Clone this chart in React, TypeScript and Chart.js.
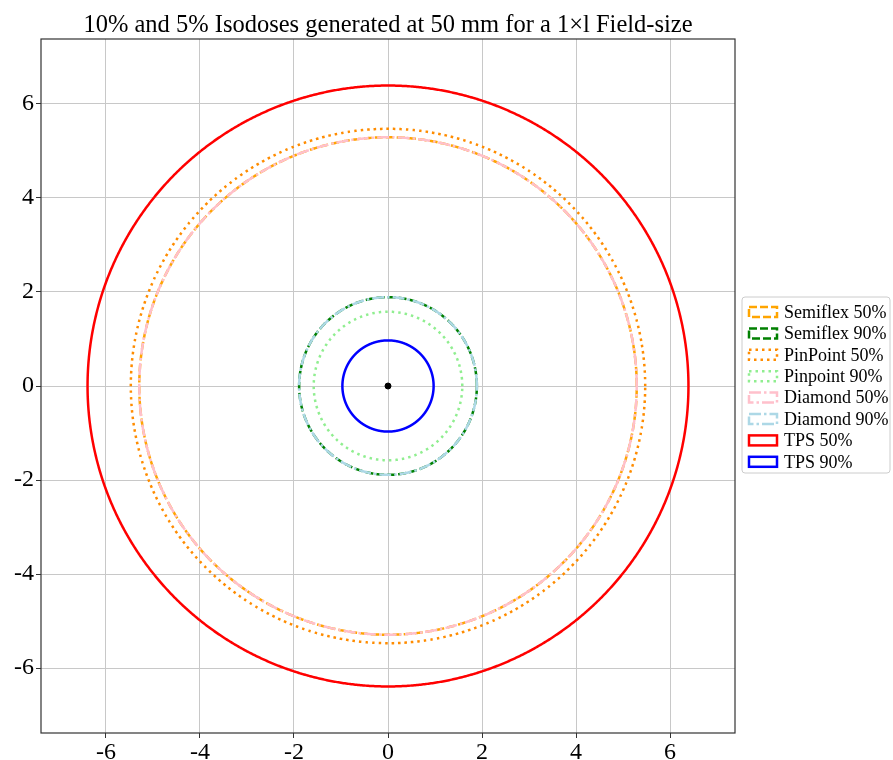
import React, { useEffect, useRef } from "react";
import { Chart, registerables } from "chart.js";

Chart.register(...registerables);

const titleText = "10% and 5% Isodoses generated at 50 mm for a 1×l Field-size";
const seriesLabels = ["Semiflex 50%", "Semiflex 90%", "PinPoint 50%", "Pinpoint 90%", "Diamond 50%", "Diamond 90%", "TPS 50%", "TPS 90%"];
const seriesRadii = [5.29, 1.89, 5.47, 1.58, 5.29, 1.89, 6.39, 0.97];
const seriesColors = ["#FFA500", "#008000", "#FF8C00", "#90EE90", "#FFC0CB", "#ADD8E6", "#FF0000", "#0000FF"];
const seriesDashes: number[][] = [[8, 3], [8, 3], [2.5, 4], [2.5, 4], [12, 3, 2.5, 3], [12, 3, 2.5, 3], [], []];
const centerPoint = [{ x: 0, y: 0 }];
const tickValues = [-6, -4, -2, 0, 2, 4, 6];
const axisMin = -7.38;
const axisMax = 7.38;

function circlePoints(r: number) {
  const pts: { x: number; y: number }[] = [];
  for (let i = 0; i <= 720; i++) {
    const a = (i / 720) * Math.PI * 2;
    pts.push({ x: r * Math.cos(a), y: r * Math.sin(a) });
  }
  return pts;
}

const FONT = "'Liberation Serif', 'Times New Roman', serif";

const overlayPlugin = {
  id: "overlay",
  afterDraw(chart: any) {
    const ctx = chart.ctx;
    const ca = chart.chartArea;
    ctx.save();
    // frame
    ctx.strokeStyle = "#333333";
    ctx.lineWidth = 1.2;
    ctx.setLineDash([]);
    ctx.strokeRect(ca.left, ca.top, ca.right - ca.left, ca.bottom - ca.top);
    // title
    ctx.fillStyle = "#000";
    ctx.font = `24.5px ${FONT}`;
    ctx.textAlign = "center";
    ctx.textBaseline = "alphabetic";
    ctx.fillText(titleText, (ca.left + ca.right) / 2, 32);
    // legend
    const lx = 742, ly = 297, lw = 148, lh = 176;
    ctx.strokeStyle = "#cccccc";
    ctx.lineWidth = 1;
    ctx.beginPath();
    if (ctx.roundRect) ctx.roundRect(lx, ly, lw, lh, 3); else ctx.rect(lx, ly, lw, lh);
    ctx.fillStyle = "rgba(255,255,255,0.8)";
    ctx.fill();
    ctx.stroke();
    ctx.font = `18px ${FONT}`;
    ctx.textAlign = "left";
    ctx.textBaseline = "middle";
    for (let i = 0; i < seriesLabels.length; i++) {
      const cy = 312 + i * 21.4;
      ctx.strokeStyle = seriesColors[i];
      ctx.lineWidth = 2.5;
      ctx.setLineDash(seriesDashes[i]);
      ctx.strokeRect(749, cy - 5, 28, 10);
      ctx.setLineDash([]);
      ctx.fillStyle = "#000";
      ctx.fillText(seriesLabels[i], 784, cy + 1);
    }
    ctx.restore();
  },
};

export default function App() {
  const ref = useRef<HTMLCanvasElement | null>(null);
  useEffect(() => {
    document.body.style.margin = "0";
    const datasets: any[] = seriesLabels.map((label, i) => ({
      label,
      data: circlePoints(seriesRadii[i]),
      showLine: true,
      borderColor: seriesColors[i],
      backgroundColor: seriesColors[i],
      borderWidth: 2.5,
      borderDash: seriesDashes[i],
      pointRadius: 0,
      fill: false,
      tension: 0.0001,
      order: seriesLabels.length - i + 1,
    }));
    datasets.push({
      label: "center",
      data: centerPoint,
      pointRadius: 3,
      backgroundColor: "#000",
      borderColor: "#000",
      showLine: false,
      order: 0,
    });
    const scaleCommon = (axis: string) => ({
      type: "linear",
      min: axisMin,
      max: axisMax,
      afterBuildTicks: (s: any) => {
        s.ticks = tickValues.map((v) => ({ value: v }));
      },
      afterFit: (s: any) => {
        if (axis === "x") s.height = 27;
        else s.width = 41;
      },
      grid: {
        color: "#c8c8c8",
        lineWidth: 1,
        drawTicks: true,
        tickLength: 5,
        tickColor: "#333",
      },
      border: { display: false },
      ticks: {
        color: "#000",
        font: { family: FONT, size: 24 },
        padding: axis === "x" ? 0 : 2,
        callback: (v: any) => String(v),
      },
    });
    const chart = new Chart(ref.current as HTMLCanvasElement, {
      type: "scatter",
      data: { datasets },
      options: {
        animation: false,
        responsive: false,
        layout: { padding: { left: 0, top: 39, right: 158, bottom: 0 } },
        plugins: { legend: { display: false }, tooltip: { enabled: false }, title: { display: false } },
        scales: { x: scaleCommon("x") as any, y: scaleCommon("y") as any },
      },
      plugins: [overlayPlugin],
    });
    return () => chart.destroy();
  }, []);
  return <canvas ref={ref} width={893} height={760} style={{ display: "block" }} />;
}
